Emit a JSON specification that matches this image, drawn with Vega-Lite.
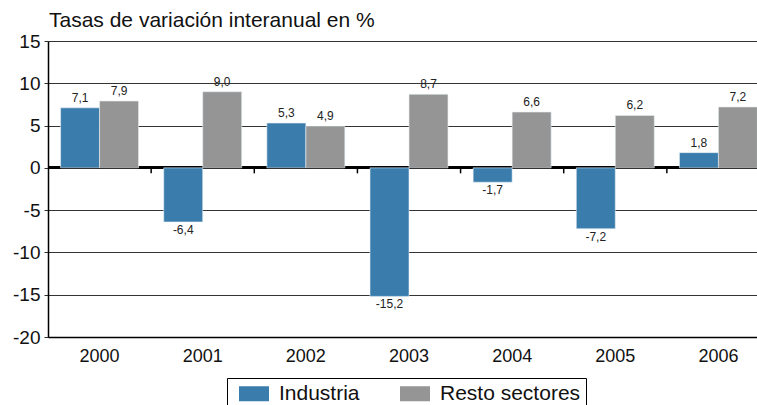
{
  "$schema": "https://vega.github.io/schema/vega-lite/v6.json",
  "width": 722,
  "height": 296,
  "autosize": {"type": "none"},
  "padding": {"left": 48, "top": 41, "right": 0, "bottom": 68},
  "background": "white",
  "title": {"text": "Tasas de variación interanual en %", "anchor": "start", "frame": "group", "dx": 1, "offset": 1, "fontSize": 21, "font": "Liberation Sans", "fontWeight": "normal", "color": "#111"},
  "data": {"values": [
    {"year": "2000", "serie": "Industria", "v": 7.1},
    {"year": "2000", "serie": "Resto sectores", "v": 7.9},
    {"year": "2001", "serie": "Industria", "v": -6.4},
    {"year": "2001", "serie": "Resto sectores", "v": 9.0},
    {"year": "2002", "serie": "Industria", "v": 5.3},
    {"year": "2002", "serie": "Resto sectores", "v": 4.9},
    {"year": "2003", "serie": "Industria", "v": -15.2},
    {"year": "2003", "serie": "Resto sectores", "v": 8.7},
    {"year": "2004", "serie": "Industria", "v": -1.7},
    {"year": "2004", "serie": "Resto sectores", "v": 6.6},
    {"year": "2005", "serie": "Industria", "v": -7.2},
    {"year": "2005", "serie": "Resto sectores", "v": 6.2},
    {"year": "2006", "serie": "Industria", "v": 1.8},
    {"year": "2006", "serie": "Resto sectores", "v": 7.2}
  ]},
  "encoding": {
    "x": {"field": "year", "type": "nominal", "scale": {"paddingInner": 0.244, "paddingOuter": 0.122}, "axis": {"title": null, "labelAngle": 0, "ticks": false, "labelPadding": 10, "grid": false}}
  },
  "layer": [
    {
      "mark": {"type": "rule", "color": "#000", "strokeWidth": 2},
      "encoding": {"y": {"datum": 0, "type": "quantitative", "scale": {"domain": [-20, 15]}, "axis": {"title": null, "values": [-20, -15, -10, -5, 0, 5, 10, 15], "format": "d", "grid": true}}, "x": null}
    },
    {
      "mark": {"type": "rule", "color": "#000", "strokeWidth": 1.5},
      "transform": [{"filter": "datum.serie == 'Industria' && datum.year != '2000'"}],
      "encoding": {
        "x": {"field": "year", "type": "nominal", "bandPosition": -0.1614},
        "y": {"datum": 0, "type": "quantitative"},
        "y2": {"datum": -0.65}
      }
    },
    {
      "mark": {"type": "bar", "stroke": "#e8eef4", "strokeWidth": 0.6},
      "encoding": {
        "xOffset": {"field": "serie", "type": "nominal", "scale": {"paddingInner": 0, "paddingOuter": 0}},
        "y": {"field": "v", "type": "quantitative", "title": null},
        "color": {"field": "serie", "type": "nominal", "scale": {"domain": ["Industria", "Resto sectores"], "range": ["#3a7dad", "#959595"]}, "legend": {"title": null, "orient": "none", "legendX": 179, "legendY": 337, "direction": "horizontal", "strokeColor": "#000", "padding": 5, "symbolType": "M-2,-1L2,-1L2,1L-2,1Z", "symbolSize": 225, "symbolOffset": 11.5, "symbolStrokeWidth": 0, "symbolOpacity": 1, "labelFontSize": 21, "labelFont": "Liberation Sans", "labelColor": "#111", "labelOffset": 14.5, "columnPadding": 33}}
      }
    },
    {
      "mark": {"type": "text", "baseline": "bottom", "dy": -3, "fontSize": 12, "font": "Liberation Sans", "color": "#222"},
      "transform": [{"filter": "datum.v >= 0"}],
      "encoding": {
        "xOffset": {"field": "serie", "type": "nominal"},
        "y": {"field": "v", "type": "quantitative"},
        "text": {"field": "v", "type": "quantitative", "format": ".1f"}
      }
    },
    {
      "mark": {"type": "text", "baseline": "top", "dy": 3, "fontSize": 12, "font": "Liberation Sans", "color": "#222"},
      "transform": [{"filter": "datum.v < 0"}],
      "encoding": {
        "xOffset": {"field": "serie", "type": "nominal"},
        "y": {"field": "v", "type": "quantitative"},
        "text": {"field": "v", "type": "quantitative", "format": ".1f"}
      }
    }
  ],
  "config": {
    "locale": {"number": {"decimal": ",", "thousands": ".", "grouping": [3], "currency": ["", " €"], "minus": "-"}},
    "view": {"stroke": null},
    "axisX": {"labelFontSize": 18, "labelFont": "Liberation Sans", "labelColor": "#111", "domainColor": "#000", "domainWidth": 1.5, "ticks": false, "labelPadding": 10},
    "axisY": {"labelFontSize": 19, "labelFont": "Liberation Sans", "labelColor": "#111", "labelPadding": 4, "tickSize": 4, "tickColor": "#333", "gridColor": "#333", "gridWidth": 1, "gridOpacity": 1, "domainColor": "#000", "domainWidth": 1.5, "grid": true}
  }
}
